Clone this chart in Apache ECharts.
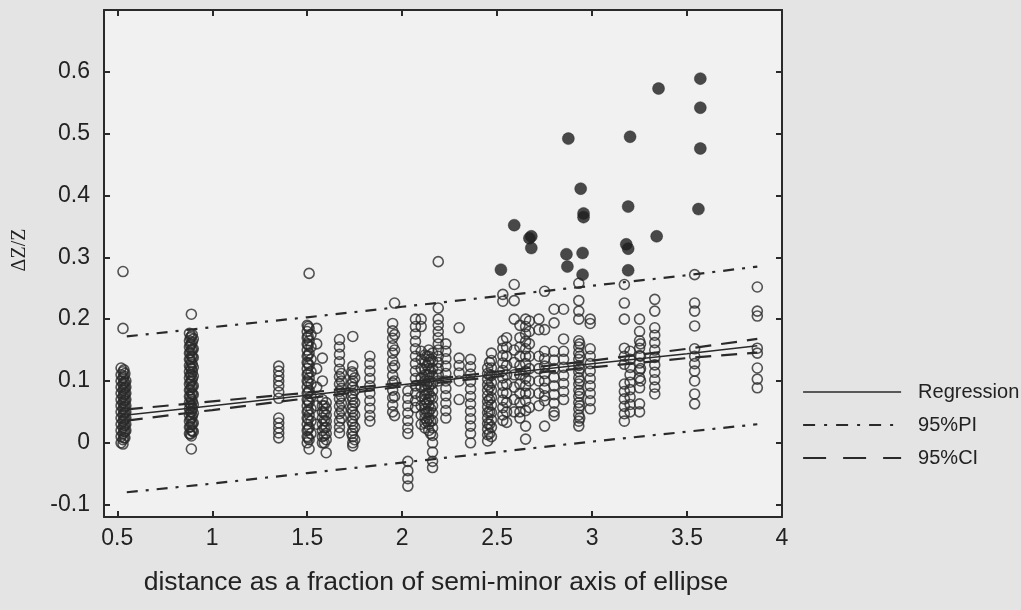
<!DOCTYPE html>
<html><head><meta charset="utf-8">
<script src="https://cdn.jsdelivr.net/npm/echarts@6/dist/echarts.min.js"></script>
<style>html,body{margin:0;padding:0;background:#e4e4e4;} #c{width:1021px;height:610px;}</style>
</head><body><div id="c"></div>
<script>
const xTicks = [0.5, 1, 1.5, 2, 2.5, 3, 3.5, 4];
const yTicks = [-0.1, 0, 0.1, 0.2, 0.3, 0.4, 0.5, 0.6];

// open circles: [x, [y values]] read column by column
const openColumns = [
  [0.52, [0.121, 0.11, 0.1, 0.09, 0.08, 0.07, 0.06, 0.05, 0.04, 0.03, 0.02, 0.01, 0.0]],
  [0.53, [0.277, 0.185, 0.115, 0.105, 0.095, 0.085, 0.075, 0.065, 0.055, 0.045, 0.035, 0.025, 0.015, 0.005, -0.002]],
  [0.535, [0.118, 0.108, 0.098, 0.088, 0.078, 0.068, 0.058, 0.048, 0.038, 0.028, 0.018, 0.008]],
  [0.54, [0.112, 0.097, 0.088, 0.078, 0.068, 0.058, 0.048, 0.038, 0.028, 0.018, 0.008]],
  [0.545, [0.1, 0.09, 0.08, 0.07, 0.06, 0.05, 0.04, 0.03, 0.02]],
  [0.88, [0.177, 0.165, 0.155, 0.145, 0.135, 0.125, 0.115, 0.105, 0.095, 0.085, 0.075, 0.065, 0.055, 0.045, 0.035, 0.025, 0.015]],
  [0.885, [0.17, 0.158, 0.146, 0.134, 0.122, 0.11, 0.098, 0.086, 0.074, 0.062, 0.05, 0.038, 0.026, 0.014]],
  [0.89, [0.208, 0.172, 0.16, 0.15, 0.14, 0.13, 0.12, 0.11, 0.1, 0.09, 0.08, 0.07, 0.06, 0.05, 0.04, 0.03, 0.02, 0.011, -0.01]],
  [0.895, [0.175, 0.163, 0.151, 0.139, 0.127, 0.115, 0.103, 0.091, 0.079, 0.067, 0.055, 0.043, 0.031, 0.019]],
  [0.90, [0.168, 0.152, 0.138, 0.122, 0.108, 0.092, 0.078, 0.062, 0.048, 0.032, 0.018]],
  [1.35, [0.124, 0.116, 0.108, 0.1, 0.092, 0.082, 0.072, 0.04, 0.032, 0.024, 0.016, 0.008]],
  [1.50, [0.19, 0.18, 0.17, 0.16, 0.15, 0.14, 0.13, 0.12, 0.11, 0.1, 0.09, 0.08, 0.07, 0.06, 0.05, 0.04, 0.03, 0.02, 0.01, 0.0]],
  [1.505, [0.188, 0.172, 0.158, 0.142, 0.128, 0.112, 0.098, 0.082, 0.068, 0.052, 0.038, 0.022, 0.008]],
  [1.51, [0.274, 0.185, 0.165, 0.145, 0.125, 0.105, 0.085, 0.065, 0.045, 0.025, 0.005, -0.01]],
  [1.52, [0.175, 0.155, 0.135, 0.115, 0.095, 0.075, 0.055, 0.035, 0.015]],
  [1.55, [0.185, 0.16, 0.12, 0.09, 0.06, 0.03]],
  [1.58, [0.137, 0.1, 0.07, 0.06, 0.05, 0.04, 0.03, 0.02, 0.01, 0.0]],
  [1.59, [0.06, 0.048, 0.036, 0.024, 0.012, 0.0]],
  [1.60, [0.065, 0.055, 0.045, 0.035, 0.025, 0.015, 0.005, -0.016]],
  [1.67, [0.167, 0.155, 0.143, 0.131, 0.119, 0.107, 0.095, 0.083, 0.071, 0.059, 0.047, 0.035, 0.025, 0.016]],
  [1.68, [0.112, 0.1, 0.088, 0.076, 0.064, 0.052, 0.04]],
  [1.735, [0.115, 0.095, 0.075, 0.055, 0.035, 0.015]],
  [1.74, [0.172, 0.124, 0.112, 0.1, 0.09, 0.08, 0.07, 0.06, 0.05, 0.04, 0.03, 0.02, 0.01, 0.0, -0.005]],
  [1.75, [0.105, 0.085, 0.065, 0.045, 0.025, 0.005]],
  [1.83, [0.14, 0.128, 0.116, 0.104, 0.092, 0.08, 0.068, 0.056, 0.044, 0.035]],
  [1.95, [0.193, 0.181, 0.169, 0.157, 0.145, 0.133, 0.121, 0.109, 0.097, 0.085, 0.073, 0.061, 0.05]],
  [1.96, [0.226, 0.175, 0.15, 0.125, 0.1, 0.075, 0.044]],
  [2.03, [0.084, 0.072, 0.06, 0.048, 0.036, 0.024, 0.015, -0.03, -0.045, -0.058, -0.07]],
  [2.07, [0.2, 0.188, 0.176, 0.164, 0.152, 0.14, 0.128, 0.116, 0.104, 0.092, 0.08, 0.068, 0.057]],
  [2.10, [0.2, 0.188, 0.148, 0.135, 0.12, 0.105, 0.09, 0.075, 0.06, 0.045, 0.03]],
  [2.12, [0.142, 0.13, 0.118, 0.11, 0.1, 0.092, 0.085, 0.078, 0.07, 0.062, 0.055, 0.048, 0.04, 0.032, 0.024]],
  [2.13, [0.14, 0.125, 0.11, 0.095, 0.08, 0.065, 0.05, 0.035]],
  [2.14, [0.15, 0.14, 0.13, 0.12, 0.11, 0.1, 0.09, 0.08, 0.07, 0.06, 0.05, 0.04, 0.03, 0.02]],
  [2.15, [0.135, 0.115, 0.095, 0.075, 0.055, 0.035, 0.015]],
  [2.16, [0.145, 0.132, 0.12, 0.108, 0.096, 0.084, 0.072, 0.06, 0.048, 0.036, 0.024, 0.012, 0.0, -0.015, -0.03, -0.04]],
  [2.19, [0.293, 0.218, 0.2, 0.19, 0.18, 0.17, 0.16, 0.15, 0.14, 0.13, 0.12, 0.11, 0.1]],
  [2.23, [0.16, 0.148, 0.136, 0.124, 0.112, 0.1, 0.088, 0.076, 0.064, 0.052, 0.04]],
  [2.30, [0.186, 0.137, 0.125, 0.113, 0.1, 0.07]],
  [2.36, [0.135, 0.123, 0.111, 0.099, 0.087, 0.075, 0.063, 0.051, 0.039, 0.027, 0.015, 0.0]],
  [2.45, [0.121, 0.112, 0.103, 0.094, 0.085, 0.076, 0.067, 0.058, 0.049, 0.04, 0.031, 0.022, 0.013, 0.003]],
  [2.46, [0.13, 0.11, 0.09, 0.07, 0.05, 0.03, 0.015]],
  [2.47, [0.145, 0.133, 0.121, 0.109, 0.097, 0.085, 0.073, 0.061, 0.049, 0.037, 0.025, 0.01]],
  [2.53, [0.24, 0.229, 0.165, 0.153, 0.141, 0.129, 0.117, 0.105, 0.093, 0.081, 0.069, 0.057, 0.045, 0.036]],
  [2.55, [0.17, 0.155, 0.14, 0.125, 0.11, 0.095, 0.08, 0.065, 0.05, 0.033]],
  [2.59, [0.256, 0.23, 0.2, 0.15, 0.13, 0.11, 0.09, 0.07, 0.05]],
  [2.62, [0.19, 0.17, 0.155, 0.14, 0.125, 0.11, 0.095, 0.08, 0.065, 0.05, 0.04]],
  [2.65, [0.2, 0.188, 0.176, 0.164, 0.152, 0.14, 0.128, 0.116, 0.104, 0.092, 0.08, 0.068, 0.052, 0.027, 0.006]],
  [2.67, [0.197, 0.18, 0.16, 0.14, 0.12, 0.1, 0.08, 0.057]],
  [2.72, [0.2, 0.183, 0.14, 0.12, 0.1, 0.08, 0.06]],
  [2.75, [0.245, 0.183, 0.148, 0.136, 0.124, 0.112, 0.1, 0.088, 0.076, 0.068, 0.027]],
  [2.80, [0.216, 0.194, 0.148, 0.134, 0.12, 0.106, 0.092, 0.078, 0.064, 0.05, 0.044]],
  [2.85, [0.216, 0.168, 0.148, 0.135, 0.122, 0.109, 0.096, 0.083, 0.07]],
  [2.93, [0.258, 0.23, 0.213, 0.2, 0.165, 0.155, 0.145, 0.135, 0.125, 0.115, 0.105, 0.095, 0.085, 0.075, 0.065, 0.055, 0.045, 0.035, 0.027]],
  [2.935, [0.16, 0.14, 0.12, 0.1, 0.08, 0.06, 0.04]],
  [2.99, [0.2, 0.193, 0.152, 0.14, 0.128, 0.116, 0.104, 0.092, 0.08, 0.068, 0.055]],
  [3.17, [0.256, 0.226, 0.2, 0.153, 0.14, 0.127, 0.095, 0.083, 0.071, 0.059, 0.047, 0.035]],
  [3.20, [0.148, 0.135, 0.122, 0.11, 0.098, 0.086, 0.074, 0.062, 0.05]],
  [3.25, [0.2, 0.18, 0.165, 0.153, 0.141, 0.129, 0.117, 0.105, 0.089, 0.063, 0.05]],
  [3.255, [0.16, 0.14, 0.12, 0.1]],
  [3.33, [0.232, 0.213, 0.186, 0.174, 0.162, 0.15, 0.138, 0.126, 0.114, 0.102, 0.09, 0.079]],
  [3.54, [0.272, 0.226, 0.213, 0.189, 0.152, 0.14, 0.128, 0.116, 0.1, 0.079, 0.063]],
  [3.87, [0.252, 0.213, 0.205, 0.153, 0.145, 0.121, 0.103, 0.089]]
];

// filled (outlier) circles
const filledX = [2.52, 2.59, 2.67, 2.68, 2.68, 2.865, 2.87, 2.875, 2.94, 2.95, 2.955, 2.955, 2.95, 3.18, 3.19, 3.19, 3.19, 3.2, 3.34, 3.35, 3.56, 3.57, 3.57, 3.57];
const filledY = [0.28, 0.352, 0.331, 0.334, 0.315, 0.305, 0.285, 0.492, 0.411, 0.307, 0.371, 0.365, 0.272, 0.321, 0.314, 0.279, 0.382, 0.495, 0.334, 0.573, 0.378, 0.476, 0.542, 0.589];

// fitted lines
const lineX = [0.55, 1.0, 1.5, 2.0, 2.5, 3.0, 3.5, 3.87];
const regressionY = [0.045, 0.060, 0.077, 0.094, 0.111, 0.128, 0.144, 0.157];
const ciUpperY = [0.054, 0.067, 0.081, 0.097, 0.115, 0.133, 0.152, 0.168];
const ciLowerY = [0.036, 0.053, 0.072, 0.091, 0.107, 0.122, 0.137, 0.146];
const piUpperY = [0.172, 0.187, 0.203, 0.220, 0.237, 0.254, 0.271, 0.285];
const piLowerY = [-0.080, -0.066, -0.049, -0.032, -0.015, 0.002, 0.018, 0.030];

const openData = [];
openColumns.forEach(([x, ys]) => ys.forEach(y => openData.push([x, y])));
const filledData = filledX.map((x, i) => [x, filledY[i]]);
const pairs = ys => lineX.map((x, i) => [x, ys[i]]);

const ink = '#2a2a2a';
const FONT = '"Liberation Sans", Arial, sans-serif';

const baseX = {
  type: 'value', min: 0.43, max: 4.0,
  axisLine: { show: true, onZero: false, lineStyle: { color: ink, width: 2 } },
  splitLine: { show: false },
  axisTick: { show: true, inside: true, length: 6, customValues: xTicks, lineStyle: { color: ink, width: 2 } },
};
const baseY = {
  type: 'value', min: -0.12, max: 0.7,
  axisLine: { show: true, onZero: false, lineStyle: { color: ink, width: 2 } },
  splitLine: { show: false },
  axisTick: { show: true, inside: true, length: 6, customValues: yTicks, lineStyle: { color: ink, width: 2 } },
};

const lineSeries = (name, data, width, dash, z) => ({
  name, type: 'line', data, symbol: 'none', showSymbol: false, z, silent: true,
  xAxisIndex: 0, yAxisIndex: 0,
  itemStyle: { color: ink },
  lineStyle: { color: ink, width, type: dash }
});

const chart = echarts.init(document.getElementById('c'), null, { renderer: 'canvas' });
chart.setOption({
  backgroundColor: '#e4e4e4',
  animation: false,
  grid: { left: 104, right: 239, top: 10, bottom: 93, show: true, backgroundColor: '#f1f1f1', borderWidth: 0 },
  xAxis: [
    Object.assign({}, baseX, {
      position: 'bottom',
      axisLabel: { show: true, customValues: xTicks, margin: 10, color: '#222', fontSize: 23, fontFamily: FONT },
      name: 'distance as a fraction of semi-minor axis of ellipse',
      nameLocation: 'middle', nameGap: 52,
      nameTextStyle: { color: '#222', fontSize: 26.5, fontFamily: FONT, padding: [0, 14, 0, 0] }
    }),
    Object.assign({}, baseX, { position: 'top', axisLabel: { show: false } })
  ],
  yAxis: [
    Object.assign({}, baseY, {
      position: 'left',
      axisLabel: { show: true, customValues: yTicks, margin: 14, color: '#222', fontSize: 23, fontFamily: FONT,
        formatter: v => String(Math.round(v * 10) / 10) }
    }),
    Object.assign({}, baseY, { position: 'right', axisLabel: { show: false } })
  ],
  legend: {
    data: [
      { name: 'Regression', lineStyle: { type: 'solid', width: 1.5 } },
      { name: '95%PI', lineStyle: { type: [12, 9, 3, 9], width: 2.2 } },
      { name: '95%CI', lineStyle: { type: [23, 17], width: 2.2 } }
    ],
    orient: 'vertical', left: 797, top: 377,
    itemWidth: 98, itemHeight: 14, itemGap: 13,
    itemStyle: { opacity: 0 },
    textStyle: { color: '#222', fontSize: 20, fontFamily: FONT, padding: [0, 0, 0, 12] },
    selectedMode: false
  },
  graphic: [{
    type: 'text', x: 20, y: 250, rotation: Math.PI / 2,
    style: { text: 'ΔZ/Z', fill: '#222', font: '20px "Liberation Serif", "Times New Roman", serif', align: 'center', verticalAlign: 'middle' }
  }],
  series: [
    {
      name: 'open', type: 'scatter', data: openData, symbol: 'circle', symbolSize: 10, z: 2, silent: true,
      itemStyle: { color: 'rgba(0,0,0,0)', borderColor: '#2a2a2a', borderWidth: 1.6 }
    },
    {
      name: 'filled', type: 'scatter', data: filledData, symbol: 'circle', symbolSize: 12, z: 3, silent: true,
      itemStyle: { color: '#1e1e1e', borderColor: '#1e1e1e', borderWidth: 0.5 }
    },
    lineSeries('Regression', pairs(regressionY), 1.5, 'solid', 4),
    lineSeries('95%PI', pairs(piUpperY), 2.2, [11, 8, 3, 8], 4),
    lineSeries('95%PI', pairs(piLowerY), 2.2, [11, 8, 3, 8], 4),
    lineSeries('95%CI', pairs(ciUpperY), 2.2, [16, 10], 4),
    lineSeries('95%CI', pairs(ciLowerY), 2.2, [16, 10], 4)
  ]
});
</script>
</body></html>
